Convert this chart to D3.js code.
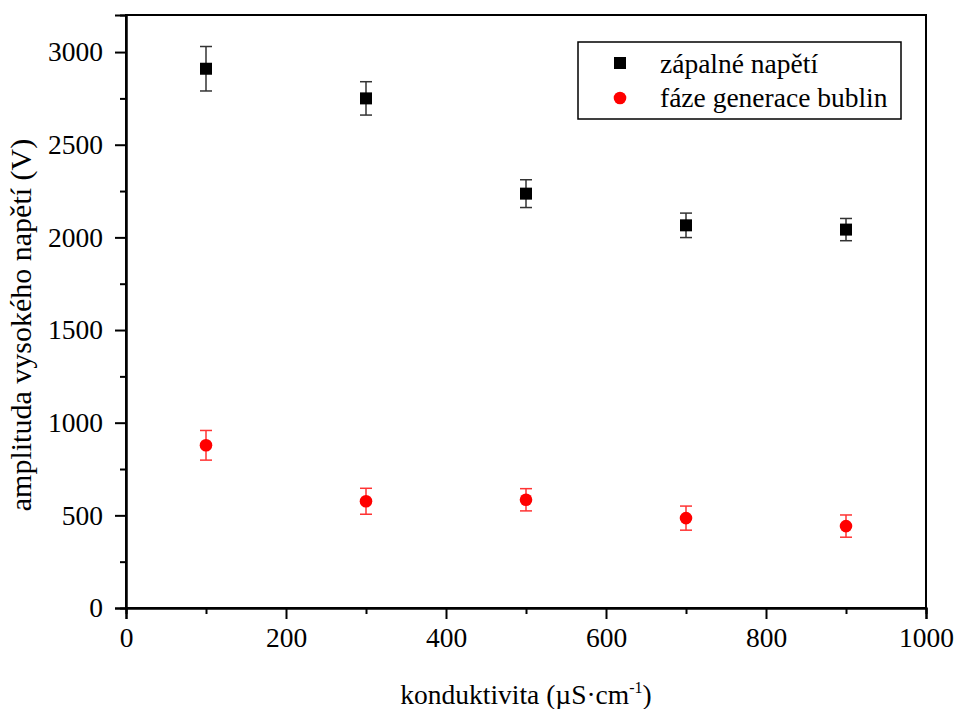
<!DOCTYPE html>
<html><head><meta charset="utf-8">
<script src="https://cdn.jsdelivr.net/npm/d3@7"></script>
<style>body{margin:0;background:#fff}svg{display:block}text{font-family:"Liberation Serif","Times New Roman",serif;fill:#000}</style>
</head><body><svg id="c" width="957" height="709"></svg>
<script>
const conductivity = [100, 300, 500, 700, 900];
const ignitionVoltage = [2910, 2750, 2236, 2065, 2042];
const ignitionError = [120, 90, 75, 66, 60];
const bubbleVoltage = [878, 576, 584, 485, 442];
const bubbleError = [80, 70, 60, 65, 60];
const xTicks = [0, 200, 400, 600, 800, 1000];
const yTicks = [0, 500, 1000, 1500, 2000, 2500, 3000];
const seriesNames = ["zápalné napětí", "fáze generace bublin"];

const svg = d3.select("#c");
const L = 126, R = 926, T = 15, B = 608;
const x = d3.scaleLinear().domain([0, 1000]).range([L, R]);
const y = d3.scaleLinear().domain([0, 3200]).range([B, T]);
const FS = "27.5px";

// frame
svg.append("rect").attr("x", L).attr("y", T).attr("width", R - L).attr("height", B - T)
  .attr("fill", "none").attr("stroke", "#000").attr("stroke-width", 2);

const xAxis = d3.axisBottom(x).tickValues(xTicks).tickSize(11).tickPadding(8).tickFormat(d3.format("d"));
const gx = svg.append("g").attr("transform", `translate(0,${B})`).call(xAxis);
const yAxis = d3.axisLeft(y).tickValues(yTicks).tickSize(11).tickPadding(12).tickFormat(d3.format("d"));
const gy = svg.append("g").attr("transform", `translate(${L},0)`).call(yAxis);
// minor ticks
const gxm = svg.append("g").attr("transform", `translate(0,${B})`)
  .call(d3.axisBottom(x).tickValues(d3.range(100, 1000, 200)).tickSize(6).tickFormat(""));
const gym = svg.append("g").attr("transform", `translate(${L},0)`)
  .call(d3.axisLeft(y).tickValues(d3.range(250, 3200, 500)).tickSize(6).tickFormat(""));
[gx, gy, gxm, gym].forEach(g => {
  g.select(".domain").attr("stroke", "#000").attr("stroke-width", 2);
  g.selectAll(".tick line").attr("stroke", "#000").attr("stroke-width", 2);
  g.selectAll(".tick text").style("font-size", FS);
});

function errorBars(vals, errs, color) {
  const g = svg.append("g").attr("stroke", color).attr("stroke-width", 1.5);
  conductivity.forEach((c, i) => {
    const cx = x(c), yt = y(vals[i] + errs[i]), yb = y(vals[i] - errs[i]);
    g.append("line").attr("x1", cx).attr("x2", cx).attr("y1", yt).attr("y2", yb);
    g.append("line").attr("x1", cx - 6).attr("x2", cx + 6).attr("y1", yt).attr("y2", yt);
    g.append("line").attr("x1", cx - 6).attr("x2", cx + 6).attr("y1", yb).attr("y2", yb);
  });
}
errorBars(ignitionVoltage, ignitionError, "#333");
errorBars(bubbleVoltage, bubbleError, "#f33");

svg.append("g").selectAll("rect").data(conductivity).join("rect")
  .attr("x", (d) => x(d) - 6).attr("y", (d, i) => y(ignitionVoltage[i]) - 6)
  .attr("width", 12).attr("height", 12).attr("fill", "#000");
svg.append("g").selectAll("circle").data(conductivity).join("circle")
  .attr("cx", (d) => x(d)).attr("cy", (d, i) => y(bubbleVoltage[i]))
  .attr("r", 6.3).attr("fill", "#f00");

// legend
const lg = svg.append("g");
lg.append("rect").attr("x", 578).attr("y", 42).attr("width", 323).attr("height", 77)
  .attr("fill", "#fff").attr("stroke", "#000").attr("stroke-width", 1.5);
lg.append("rect").attr("x", 614).attr("y", 57).attr("width", 12).attr("height", 12).attr("fill", "#000");
lg.append("circle").attr("cx", 620).attr("cy", 98).attr("r", 6.3).attr("fill", "#f00");
lg.append("text").attr("x", 660).attr("y", 73).style("font-size", FS).text(seriesNames[0]);
lg.append("text").attr("x", 660).attr("y", 107).style("font-size", FS).text(seriesNames[1]);

// axis titles
const xt = svg.append("text").attr("x", 526).attr("y", 704).attr("text-anchor", "middle").style("font-size", FS);
xt.append("tspan").text("konduktivita (µS·cm");
xt.append("tspan").attr("dy", -11).style("font-size", "16px").text("-1");
xt.append("tspan").attr("dy", 11).text(")");
svg.append("text").attr("transform", "translate(31,325) rotate(-90)").attr("text-anchor", "middle")
  .style("font-size", "30px").text("amplituda vysokého napětí (V)");
</script></body></html>
